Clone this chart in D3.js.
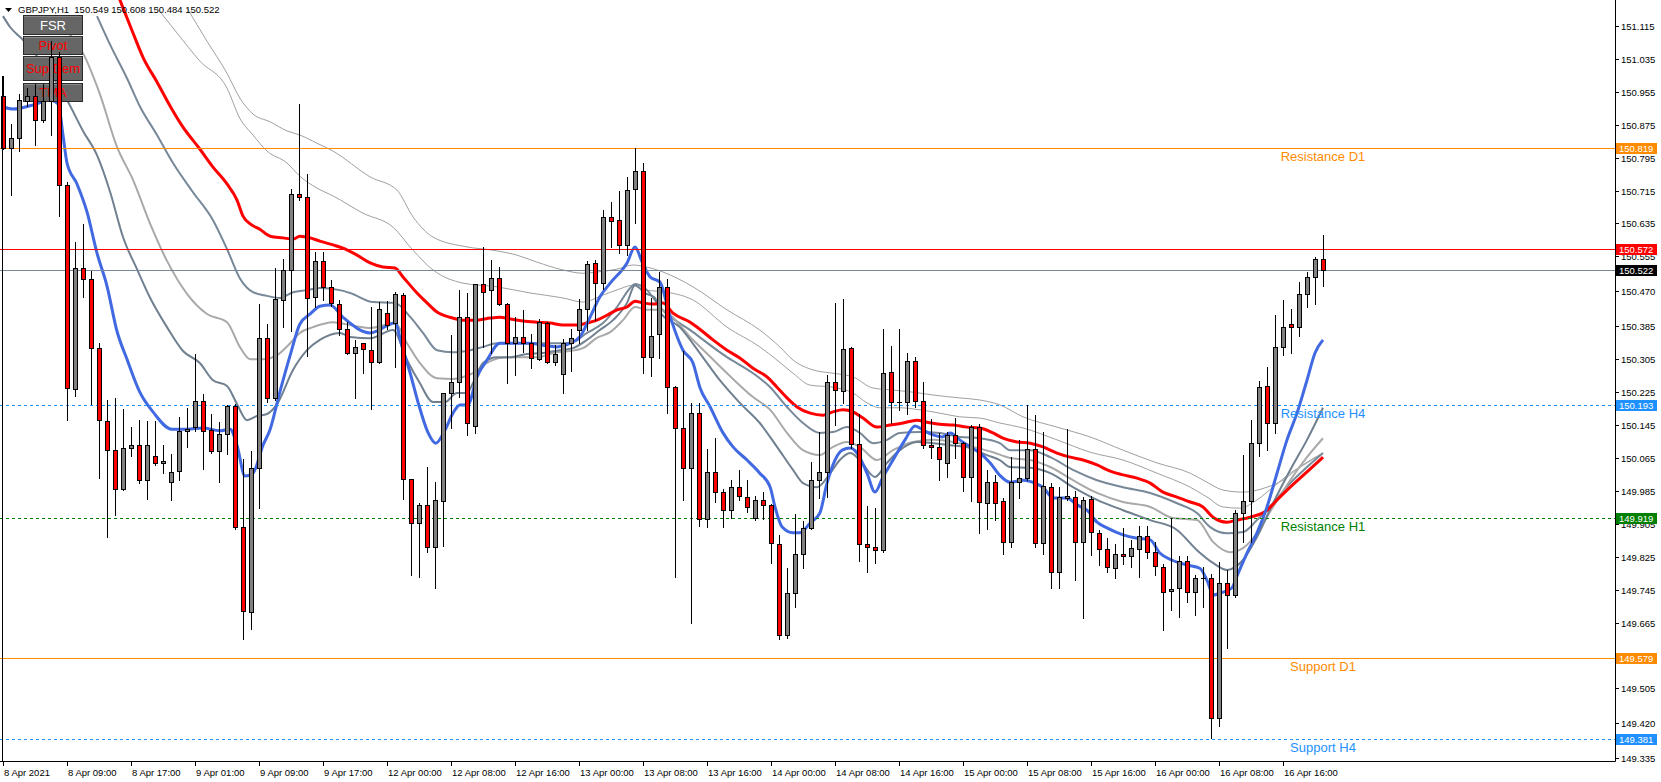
<!DOCTYPE html>
<html><head><meta charset="utf-8">
<script src="https://cdn.jsdelivr.net/npm/d3@7"></script>
<style>
body{margin:0;background:#fff;}
svg{display:block;font-family:"Liberation Sans",Arial,sans-serif;}
</style>
</head><body>
<svg id="c" width="1661" height="782"></svg>
<script>
// ---------------- DATA ----------------
const symbol = "GBPJPY,H1";
const opens = [150.944,150.819,150.843,150.933,150.944,150.886,150.933,151.039,150.729,150.232,150.527,150.500,150.332,150.155,150.084,149.989,150.089,150.096,150.011,150.070,150.053,150.006,150.033,150.131,150.140,150.203,150.133,150.082,150.123,150.191,149.897,149.690,150.040,150.357,150.211,150.449,150.522,150.707,150.699,150.456,150.544,150.481,150.439,150.378,150.320,150.345,150.327,150.298,150.417,150.393,150.461,150.014,149.907,149.951,149.849,149.960,150.223,150.250,150.408,150.143,150.488,150.473,150.503,150.439,150.345,150.359,150.345,150.305,150.393,150.298,150.269,150.345,150.376,150.427,150.539,150.490,150.651,150.643,150.583,150.719,150.762,150.310,150.367,150.481,150.237,150.138,150.040,150.174,149.916,150.031,149.982,149.938,149.994,149.970,149.919,149.963,149.951,149.856,149.635,149.737,149.832,149.895,150.011,150.031,150.250,150.228,150.332,150.099,149.856,149.849,149.841,150.274,150.201,150.201,150.300,150.203,150.096,150.092,150.053,150.121,150.101,150.019,150.140,149.955,150.006,149.960,149.861,150.006,150.016,150.087,149.858,149.994,149.788,149.968,149.970,149.861,149.965,149.882,149.844,149.797,149.832,149.827,149.844,149.875,149.836,149.800,149.742,149.749,149.815,149.739,149.773,149.773,149.433,149.761,149.732,149.931,149.960,150.101,150.240,150.150,150.335,150.391,150.383,150.464,150.505,150.549];
const highs = [150.993,150.876,150.949,150.965,150.974,150.974,151.078,151.051,150.736,150.590,150.634,150.519,150.345,150.206,150.211,150.184,150.140,150.157,150.155,150.155,150.096,150.074,150.165,150.187,150.318,150.220,150.172,150.152,150.194,150.196,150.062,150.082,150.439,150.390,150.527,150.549,150.719,150.925,150.755,150.566,150.566,150.498,150.449,150.395,150.352,150.345,150.432,150.444,150.447,150.468,150.466,150.014,149.955,150.043,150.006,150.223,150.364,150.473,150.466,150.488,150.578,150.546,150.529,150.441,150.408,150.425,150.367,150.403,150.396,150.340,150.354,150.378,150.451,150.544,150.546,150.668,150.687,150.714,150.748,150.819,150.782,150.454,150.517,150.500,150.240,150.325,150.199,150.199,150.087,150.114,149.989,150.011,150.036,150.011,149.972,149.982,149.953,149.878,149.797,149.929,149.912,150.055,150.128,150.266,150.442,150.451,150.334,150.172,149.948,149.943,150.378,150.337,150.378,150.320,150.310,150.250,150.160,150.126,150.128,150.162,150.104,150.145,150.148,150.036,150.023,149.968,150.067,150.109,150.194,150.169,150.128,150.004,149.994,150.135,149.985,149.970,149.972,149.890,149.870,149.856,149.895,149.866,149.899,149.899,149.861,149.807,149.919,149.827,149.827,149.780,149.800,149.783,149.812,149.793,149.938,150.072,150.157,150.252,150.286,150.413,150.449,150.427,150.493,150.517,150.554,150.608];
const lows = [150.815,150.704,150.811,150.920,150.826,150.881,150.850,150.653,150.157,150.215,150.456,150.196,150.016,149.873,149.926,149.987,150.070,150.004,149.965,150.048,150.028,149.963,150.011,150.092,150.131,150.038,150.077,150.006,150.074,149.892,149.625,149.649,149.943,150.201,150.206,150.383,150.374,150.692,150.313,150.432,150.449,150.434,150.364,150.318,150.211,150.271,150.184,150.295,150.378,150.286,149.965,149.780,149.776,149.836,149.749,149.851,150.138,150.213,150.121,150.126,150.335,150.320,150.436,150.247,150.266,150.323,150.284,150.303,150.296,150.291,150.223,150.276,150.345,150.376,150.400,150.476,150.578,150.563,150.558,150.636,150.271,150.264,150.308,150.174,149.776,149.963,149.664,149.899,149.897,149.958,149.897,149.919,149.963,149.934,149.914,149.916,149.810,149.625,149.627,149.703,149.797,149.893,149.968,149.970,150.145,150.199,150.089,149.815,149.788,149.810,149.836,150.150,150.182,150.172,150.189,150.089,150.065,150.011,150.019,150.065,149.985,149.960,149.882,149.892,149.914,149.832,149.849,149.968,150.011,149.849,149.832,149.749,149.749,149.963,149.768,149.676,149.829,149.805,149.788,149.773,149.807,149.800,149.776,149.822,149.780,149.647,149.695,149.678,149.715,149.683,149.703,149.384,149.413,149.603,149.727,149.861,149.861,150.070,150.084,150.126,150.315,150.320,150.362,150.432,150.439,150.484];
const closes = [150.819,150.843,150.935,150.944,150.886,150.933,151.039,150.729,150.235,150.527,150.500,150.332,150.157,150.084,149.989,150.089,150.096,150.011,150.096,150.053,150.058,150.031,150.131,150.135,150.203,150.131,150.082,150.123,150.191,149.897,149.693,150.040,150.357,150.211,150.451,150.522,150.707,150.699,150.454,150.544,150.481,150.442,150.378,150.320,150.335,150.330,150.298,150.427,150.388,150.464,150.014,149.907,149.951,149.849,149.963,150.223,150.250,150.408,150.150,150.488,150.468,150.503,150.439,150.345,150.359,150.345,150.308,150.395,150.298,150.318,150.345,150.357,150.427,150.536,150.490,150.651,150.641,150.583,150.716,150.762,150.310,150.362,150.481,150.237,150.138,150.040,150.174,149.916,150.031,149.982,149.938,149.994,149.972,149.946,149.963,149.951,149.858,149.635,149.737,149.832,149.895,150.011,150.031,150.250,150.230,150.330,150.099,149.856,149.849,149.841,150.271,150.201,150.201,150.300,150.203,150.096,150.092,150.062,150.121,150.101,150.019,150.140,149.958,150.006,149.955,149.861,150.006,150.016,150.087,149.858,149.997,149.788,149.970,149.972,149.861,149.963,149.885,149.844,149.800,149.832,149.827,149.846,149.875,149.836,149.802,149.739,149.746,149.815,149.739,149.773,149.773,149.433,149.761,149.732,149.931,149.960,150.101,150.237,150.150,150.335,150.383,150.383,150.464,150.505,150.549,150.522];

// moving-average ribbon as [bar index, price]
const maBlue = [[0,150.918],[1.25,150.913],[3.75,150.923],[5.9,150.935],[6.9,150.925],[7.5,150.850],[8,150.782],[9.25,150.731],[10.5,150.663],[11.75,150.563],[13,150.483],[14.25,150.373],[15.5,150.305],[17.1,150.225],[18.75,150.177],[21.1,150.135],[23,150.135],[25,150.138],[27.1,150.131],[28.4,150.135],[29.25,150.096],[30.25,150.021],[31.25,150.028],[32.5,150.096],[33.4,150.135],[34.6,150.225],[35.9,150.315],[37.1,150.390],[38.4,150.415],[39.6,150.434],[40.9,150.437],[42.5,150.407],[45.9,150.369],[49,150.393],[49.9,150.335],[50.9,150.271],[51.9,150.199],[53.1,150.128],[54.1,150.101],[55.25,150.133],[56.25,150.174],[57.1,150.194],[58.1,150.194],[59.25,150.262],[60.5,150.303],[62.1,150.344],[64.25,150.344],[65.9,150.344],[67.5,150.339],[69.25,150.335],[70.9,150.344],[72.1,150.359],[73.4,150.408],[74.6,150.456],[75.9,150.490],[78,150.539],[79,150.578],[79.9,150.541],[80.9,150.505],[82.1,150.493],[83.4,150.408],[85,150.327],[86.25,150.296],[87.1,150.237],[88.4,150.189],[90,150.126],[91.25,150.092],[93,150.060],[94.6,150.028],[95.9,149.994],[96.5,149.946],[97.4,149.897],[98.75,149.883],[99.6,149.883],[100.9,149.907],[102.1,149.931],[103,150.004],[104,150.060],[104.9,150.084],[105.9,150.089],[106.75,150.077],[108,150.028],[109,149.982],[110,150.019],[111.25,150.060],[112.75,150.109],[114,150.143],[115,150.133],[116.25,150.121],[117.4,150.116],[118.4,150.126],[119.6,150.109],[120.9,150.092],[122.1,150.077],[123.4,150.053],[124.6,150.023],[125.9,150.006],[127.5,150.011],[129,150.004],[130,149.994],[131.25,149.968],[133,149.968],[134.25,149.951],[135.5,149.938],[136.75,149.909],[138,149.895],[140,149.878],[141.75,149.870],[143.4,149.866],[144.6,149.834],[146.1,149.817],[148,149.805],[149.6,149.797],[150.6,149.763],[151.25,149.732],[152.5,149.739],[153.6,149.749],[154.4,149.785],[155.5,149.834],[156.75,149.883],[158,149.946],[159.25,150.028],[160.5,150.109],[161.75,150.174],[163,150.254],[164,150.320],[165,150.352]];
const maRed = [[13.4,151.239],[15,151.159],[16.25,151.098],[17.5,151.039],[19.25,150.979],[20.9,150.920],[22.5,150.869],[24.6,150.816],[26.25,150.772],[28,150.731],[29.25,150.692],[30,150.653],[30.9,150.634],[32.1,150.621],[33.4,150.604],[35,150.600],[36.25,150.597],[37.1,150.604],[38.4,150.600],[39.6,150.592],[41.25,150.583],[42.5,150.575],[44.25,150.558],[45.9,150.539],[47.5,150.529],[49,150.527],[50,150.505],[51.75,150.466],[53,150.442],[54.25,150.420],[55.9,150.407],[57.5,150.400],[59.25,150.400],[60.9,150.405],[62.1,150.407],[63.4,150.403],[65,150.398],[66.75,150.395],[68.4,150.393],[70,150.388],[71.75,150.388],[73,150.393],[74.25,150.400],[75.5,150.412],[76.75,150.425],[78,150.432],[79,150.446],[80,150.442],[81.25,150.439],[82.5,150.442],[83.75,150.417],[85.9,150.395],[87.1,150.378],[88.75,150.352],[90.5,150.327],[92.1,150.308],[93.75,150.283],[95.5,150.262],[96.75,150.237],[98,150.211],[99.25,150.189],[100.9,150.174],[102.5,150.169],[103.75,150.177],[105,150.182],[106.25,150.177],[107.5,150.162],[109.25,150.140],[110.9,150.145],[112.5,150.150],[114.25,150.157],[115.5,150.152],[117.1,150.147],[118.75,150.145],[120.5,150.140],[122.1,150.138],[123.75,150.126],[125,150.113],[126.75,150.104],[128.4,150.101],[130,150.092],[131.75,150.077],[133.4,150.067],[135,150.060],[136.75,150.048],[138.4,150.033],[140,150.024],[141.75,150.016],[143.4,150.004],[145,149.982],[146.75,149.970],[148.4,149.958],[150,149.946],[151.25,149.921],[153,149.909],[154.25,149.914],[155.9,149.921],[158,149.938],[159.25,149.963],[160.9,149.994],[163,150.031],[165,150.067]];
const maSlateA = [[0,151.139],[0.9,151.112],[2.4,151.083],[8,150.935],[10,150.860],[11.75,150.801],[13.4,150.711],[15,150.602],[16.75,150.524],[18.4,150.454],[20.5,150.383],[22.5,150.325],[24.6,150.296],[26.25,150.254],[28,150.240],[29.25,150.196],[30.5,150.157],[31.75,150.167],[33,150.172],[34.25,150.196],[36.25,150.279],[38,150.327],[39.6,150.352],[42.1,150.369],[43.4,150.359],[45.9,150.356],[48.75,150.376],[50.5,150.303],[52.1,150.247],[53.75,150.201],[55.25,150.201],[56.75,150.223],[58,150.223],[58.75,150.247],[60,150.296],[61.75,150.310],[63.4,150.310],[65.5,150.318],[67.5,150.320],[69.6,150.327],[71.25,150.332],[73,150.352],[74.6,150.376],[76.25,150.400],[78,150.442],[79,150.485],[80.25,150.466],[81.5,150.454],[82.1,150.420],[84.6,150.383],[87.1,150.320],[89.6,150.254],[92.1,150.199],[94.6,150.150],[96.75,150.092],[98.75,150.036],[100,150.004],[101.75,149.994],[103.4,150.028],[104.6,150.060],[105.9,150.077],[107.1,150.060],[109,150.019],[110.5,150.053],[112.1,150.084],[114.25,150.104],[116.25,150.101],[118.4,150.096],[120.9,150.089],[123,150.072],[124.6,150.060],[125.9,150.043],[128.4,150.041],[130.9,150.028],[133.75,149.994],[136.75,149.963],[140,149.938],[143.4,149.914],[146.75,149.890],[149.25,149.841],[151.25,149.810],[153,149.793],[155,149.817],[156.75,149.873],[158.75,149.955],[160.9,150.036],[163,150.109],[165,150.187]];
const maGrayB = [[7.1,151.117],[10,151.049],[12.1,150.950],[14.25,150.821],[16.25,150.741],[18.4,150.634],[20.5,150.544],[23,150.464],[25.5,150.415],[28,150.395],[29.6,150.335],[30.9,150.305],[32.5,150.305],[34.25,150.315],[35.9,150.344],[37.1,150.369],[38.75,150.383],[41.25,150.395],[43.4,150.388],[45.9,150.381],[49,150.393],[50.5,150.344],[52.1,150.296],[54.25,150.259],[56.25,150.257],[57.5,150.262],[58.75,150.271],[60.5,150.296],[62.1,150.308],[64.25,150.310],[66.75,150.310],[69.25,150.322],[70.9,150.325],[72.5,150.332],[74.25,150.357],[75.9,150.371],[77.5,150.400],[79,150.432],[80.5,150.425],[82.1,150.425],[86.25,150.352],[90.5,150.271],[93.75,150.213],[95.9,150.182],[98,150.126],[100,150.084],[102.1,150.072],[103.75,150.092],[105.5,150.104],[107.1,150.092],[109.25,150.060],[111.25,150.084],[113.75,150.104],[116.25,150.109],[118.75,150.104],[121.25,150.092],[123.75,150.079],[125.9,150.065],[128.4,150.060],[130.9,150.043],[133.75,150.011],[136.75,149.980],[140,149.958],[143.4,149.946],[146.25,149.919],[149.25,149.914],[151.25,149.861],[153.4,149.836],[155,149.846],[156.75,149.882],[158.75,149.946],[160.9,150.011],[163,150.067],[165,150.113]];
const maSlateC = [[11.75,151.139],[13.4,151.069],[15.5,150.988],[17.1,150.920],[19.25,150.850],[21.25,150.782],[23.75,150.711],[26.25,150.643],[28,150.573],[29.6,150.502],[31.25,150.468],[33,150.459],[34.6,150.454],[36.25,150.468],[38,150.473],[39.6,150.478],[42.1,150.473],[43.4,150.466],[46.25,150.444],[49,150.442],[50.9,150.408],[52.5,150.369],[54.25,150.327],[56.25,150.322],[58.4,150.327],[60,150.335],[61.75,150.344],[64.25,150.344],[66.75,150.344],[70,150.344],[71.25,150.347],[73,150.369],[75,150.393],[76.75,150.432],[78.4,150.478],[79,150.488],[80.5,150.473],[82.1,150.432],[86.25,150.371],[90.5,150.310],[93.75,150.271],[95.9,150.237],[98,150.189],[100,150.150],[102.1,150.126],[103.75,150.128],[105.5,150.140],[107.1,150.126],[108.75,150.101],[110.5,150.109],[112.1,150.126],[114.6,150.128],[117.1,150.126],[119.6,150.116],[122.1,150.113],[124.6,150.101],[125.9,150.084],[128.4,150.084],[130.9,150.067],[133.75,150.036],[136.75,150.011],[140,149.994],[143.4,149.980],[146.75,149.955],[149.25,149.931],[150.9,149.897],[153,149.882],[155,149.885],[156.75,149.914],[158.75,149.955],[160.9,150.004],[163,150.043],[165,150.077]];
const maThinE = [[19.25,151.159],[21.75,151.098],[24.6,151.030],[28,150.964],[29.6,150.891],[31.25,150.850],[33,150.811],[35.5,150.782],[37.1,150.750],[39.25,150.721],[41.25,150.702],[45,150.660],[48.75,150.626],[51.25,150.570],[53.75,150.522],[57.5,150.490],[61.75,150.481],[65.9,150.466],[70,150.454],[72.5,150.444],[75,150.461],[77.1,150.476],[78.75,150.485],[80,150.473],[82.1,150.470],[86.25,150.449],[90.5,150.383],[94.6,150.335],[96.75,150.303],[98.75,150.271],[100.9,150.242],[103.75,150.237],[106.25,150.223],[108,150.199],[109.6,150.187],[112.1,150.187],[114.6,150.182],[117.1,150.174],[119.6,150.165],[122.1,150.162],[124.6,150.150],[127.5,150.138],[131.75,150.109],[135.9,150.079],[140,150.060],[144.25,150.028],[148.4,149.994],[150.5,149.970],[152.5,149.946],[154.6,149.943],[156.75,149.963],[158.75,149.994],[160.9,150.028],[163,150.053],[165,150.077]];
const maThinF = [[23,151.159],[25.5,151.078],[28,151.000],[29.6,150.940],[31.25,150.901],[33.4,150.882],[35.5,150.860],[37.1,150.850],[39.25,150.830],[41.25,150.811],[45.9,150.748],[49.25,150.716],[51.25,150.651],[53.75,150.602],[58,150.578],[61.25,150.570],[64.25,150.558],[66.75,150.541],[70,150.522],[72.5,150.514],[74.25,150.517],[76.75,150.524],[78.75,150.534],[80.5,150.529],[82.5,150.517],[86.25,150.481],[90.5,150.425],[94.6,150.376],[97.1,150.335],[98.75,150.303],[101.25,150.279],[103.75,150.271],[106.25,150.262],[108.75,150.235],[111.25,150.230],[113.75,150.225],[116.25,150.218],[119.6,150.211],[122.1,150.206],[124.6,150.194],[127.5,150.165],[131.75,150.140],[135.9,150.116],[140,150.084],[144.25,150.053],[148.4,150.028],[150.5,150.006],[152.5,149.987],[155,149.982],[158,149.994],[160,150.011],[162.1,150.043],[165,150.077]];

// horizontal levels
const levelPrices = [150.819, 150.572, 150.522, 150.193, 149.919, 149.579, 149.381];
const levelNames  = ["Resistance D1", "", "", "Resistance H4", "Resistance H1", "Support D1", "Support H4"];

// axes
const yTickValues = [151.115,151.035,150.955,150.875,150.795,150.715,150.635,150.555,150.470,150.385,150.305,150.225,150.145,150.065,149.985,149.905,149.825,149.745,149.665,149.585,149.505,149.420,149.335];
const xTickIndex  = [0,8,16,24,32,40,48,56,64,72,80,88,96,104,112,120,128,136,144,152,160];
const xTickLabels = ["8 Apr 2021","8 Apr 09:00","8 Apr 17:00","9 Apr 01:00","9 Apr 09:00","9 Apr 17:00","12 Apr 00:00","12 Apr 08:00","12 Apr 16:00","13 Apr 00:00","13 Apr 08:00","13 Apr 16:00","14 Apr 00:00","14 Apr 08:00","14 Apr 16:00","15 Apr 00:00","15 Apr 08:00","15 Apr 16:00","16 Apr 00:00","16 Apr 08:00","16 Apr 16:00"];
const buttonLabels = ["FSR","Pivot","Sup Dem","TMA"];

// ---------------- STYLE / LAYOUT ----------------
const W = 1661, H = 782;
const plotRight = 1615, plotBottom = 761;
const svg = d3.select("#c");
const x = d3.scaleLinear().domain([0, 165]).range([3, 1323]);
const y = d3.scaleLinear().domain([149.335, 151.115]).range([758.3, 26]);
const fmt = d3.format(".3f");

svg.append("defs").append("clipPath").attr("id","plot")
  .append("rect").attr("x",0).attr("y",0).attr("width",plotRight).attr("height",plotBottom);
const plot = svg.append("g").attr("clip-path","url(#plot)");

// MA lines
const maStyles = [
  {d: maThinF,  c:"#A0A0A0", w:1},
  {d: maThinE,  c:"#A0A0A0", w:1},
  {d: maSlateC, c:"#778899", w:2},
  {d: maGrayB,  c:"#A9A9A9", w:2},
  {d: maSlateA, c:"#708090", w:2},
  {d: maRed,    c:"#FF0000", w:3},
  {d: maBlue,   c:"#4169E1", w:3}
];
const line = d3.line().x(d => x(d[0])).y(d => y(d[1])).curve(d3.curveMonotoneX);
maStyles.forEach(s => {
  plot.append("path").attr("d", line(s.d)).attr("fill","none")
    .attr("stroke", s.c).attr("stroke-width", s.w).attr("stroke-linejoin","round");
});

// level lines
const levelStyle = [
  {c:"#FF8C00", dash:null},
  {c:"#FF0000", dash:null},
  {c:"#778899", dash:null},
  {c:"#1E90FF", dash:"3,3"},
  {c:"#008000", dash:"3,3"},
  {c:"#FF8C00", dash:null},
  {c:"#1E90FF", dash:"3,3"}
];
const boxBg = ["#FF8C00","#FF0000","#000000","#1E90FF","#008000","#FF8C00","#1E90FF"];
levelPrices.forEach((p,k) => {
  const yy = Math.round(y(p)) + 0.5;
  const l = plot.append("line").attr("x1",0).attr("x2",plotRight).attr("y1",yy).attr("y2",yy)
    .attr("stroke", levelStyle[k].c).attr("stroke-width",1);
  if (levelStyle[k].dash) l.attr("stroke-dasharray", levelStyle[k].dash);
  if (levelNames[k]) {
    plot.append("text").attr("x", x(165)).attr("y", yy + 12.5)
      .attr("text-anchor","middle").attr("font-size","13px")
      .attr("fill", levelStyle[k].c).text(levelNames[k]);
  }
});

// buttons
const btnRects = [[23,15,60,20],[23,36,60,19],[23,56,60,25],[23,83,60,19]];
buttonLabels.forEach((b,k) => {
  const r = btnRects[k];
  const g = svg.append("g");
  g.append("rect").attr("x",r[0]+0.5).attr("y",r[1]+0.5).attr("width",r[2]-1).attr("height",r[3]-1)
    .attr("fill","#666666").attr("stroke","#2a2a2a").attr("stroke-width",1);
  g.append("line").attr("x1",r[0]+1).attr("x2",r[0]+r[2]-2).attr("y1",r[1]+1.5).attr("y2",r[1]+1.5)
    .attr("stroke","#8a8a8a");
  g.append("text").attr("x", r[0]+r[2]/2).attr("y", r[1]+r[3]/2+4.5)
    .attr("text-anchor","middle").attr("font-size","13px")
    .attr("fill", k===0 ? "#FFFFFF" : "#FF0000").text(b);
});

// candles
const cg = svg.append("g").attr("clip-path","url(#plot)");
for (let i = 0; i < opens.length; i++) {
  const o = opens[i], h = highs[i], l = lows[i], c = closes[i];
  const cx = Math.round(x(i)) + 0.5;
  cg.append("line").attr("x1",cx).attr("x2",cx)
    .attr("y1", Math.round(y(h))).attr("y2", Math.round(y(l))+1)
    .attr("stroke","#000").attr("stroke-width",1);
  const yt = Math.round(y(Math.max(o,c))), yb = Math.round(y(Math.min(o,c)));
  if (yb - yt < 1) {
    cg.append("line").attr("x1",cx-2.5).attr("x2",cx+2.5).attr("y1",yt+0.5).attr("y2",yt+0.5)
      .attr("stroke","#000").attr("stroke-width",1);
  } else {
    cg.append("rect").attr("x",cx-2).attr("y",yt+0.5).attr("width",4).attr("height",yb-yt)
      .attr("fill", c >= o ? "#808080" : "#FF0000").attr("stroke","#000").attr("stroke-width",1);
  }
}

// frame / axes
svg.append("line").attr("x1",plotRight+0.5).attr("x2",plotRight+0.5).attr("y1",0).attr("y2",plotBottom+0.5)
  .attr("stroke","#000");
svg.append("line").attr("x1",0).attr("x2",plotRight+0.5).attr("y1",plotBottom+0.5).attr("y2",plotBottom+0.5)
  .attr("stroke","#000");
svg.append("line").attr("x1",x(0)-0.5).attr("x2",x(0)-0.5).attr("y1",76).attr("y2",plotBottom)
  .attr("stroke","#000");

// y ticks
const yAx = svg.append("g").attr("font-size","9.5px").attr("fill","#000");
yTickValues.forEach(v => {
  const yy = Math.round(y(v)) + 0.5;
  yAx.append("line").attr("x1",plotRight).attr("x2",plotRight+4).attr("y1",yy).attr("y2",yy).attr("stroke","#000");
  yAx.append("text").attr("x",1621).attr("y",yy+3.5).text(fmt(v));
});
// level boxes on axis
levelPrices.forEach((p,k) => {
  const yy = Math.round(y(p));
  svg.append("rect").attr("x",1616).attr("y",yy-5).attr("width",41).attr("height",11).attr("fill",boxBg[k]);
  svg.append("text").attr("x",1619).attr("y",yy+4).attr("font-size","9.5px").attr("fill","#fff").text(fmt(p));
});

// x ticks
xTickIndex.forEach((idx,k) => {
  const xx = Math.round(x(idx)) + 0.5;
  svg.append("line").attr("x1",xx).attr("x2",xx).attr("y1",plotBottom).attr("y2",plotBottom+5).attr("stroke","#000");
  svg.append("text").attr("x",xx+0.5).attr("y",776).attr("font-size","9.5px").attr("fill","#000").text(xTickLabels[k]);
});

// header
const last = opens.length - 1;
svg.append("path").attr("d","M5,8 L12,8 L8.5,12 Z").attr("fill","#000");
svg.append("text").attr("x",18).attr("y",13).attr("font-size","9.5px").attr("fill","#000")
  .style("white-space","pre")
  .text(symbol + "  " + [opens[last],highs[last],lows[last],closes[last]].map(fmt).join(" "));
</script>
</body></html>
